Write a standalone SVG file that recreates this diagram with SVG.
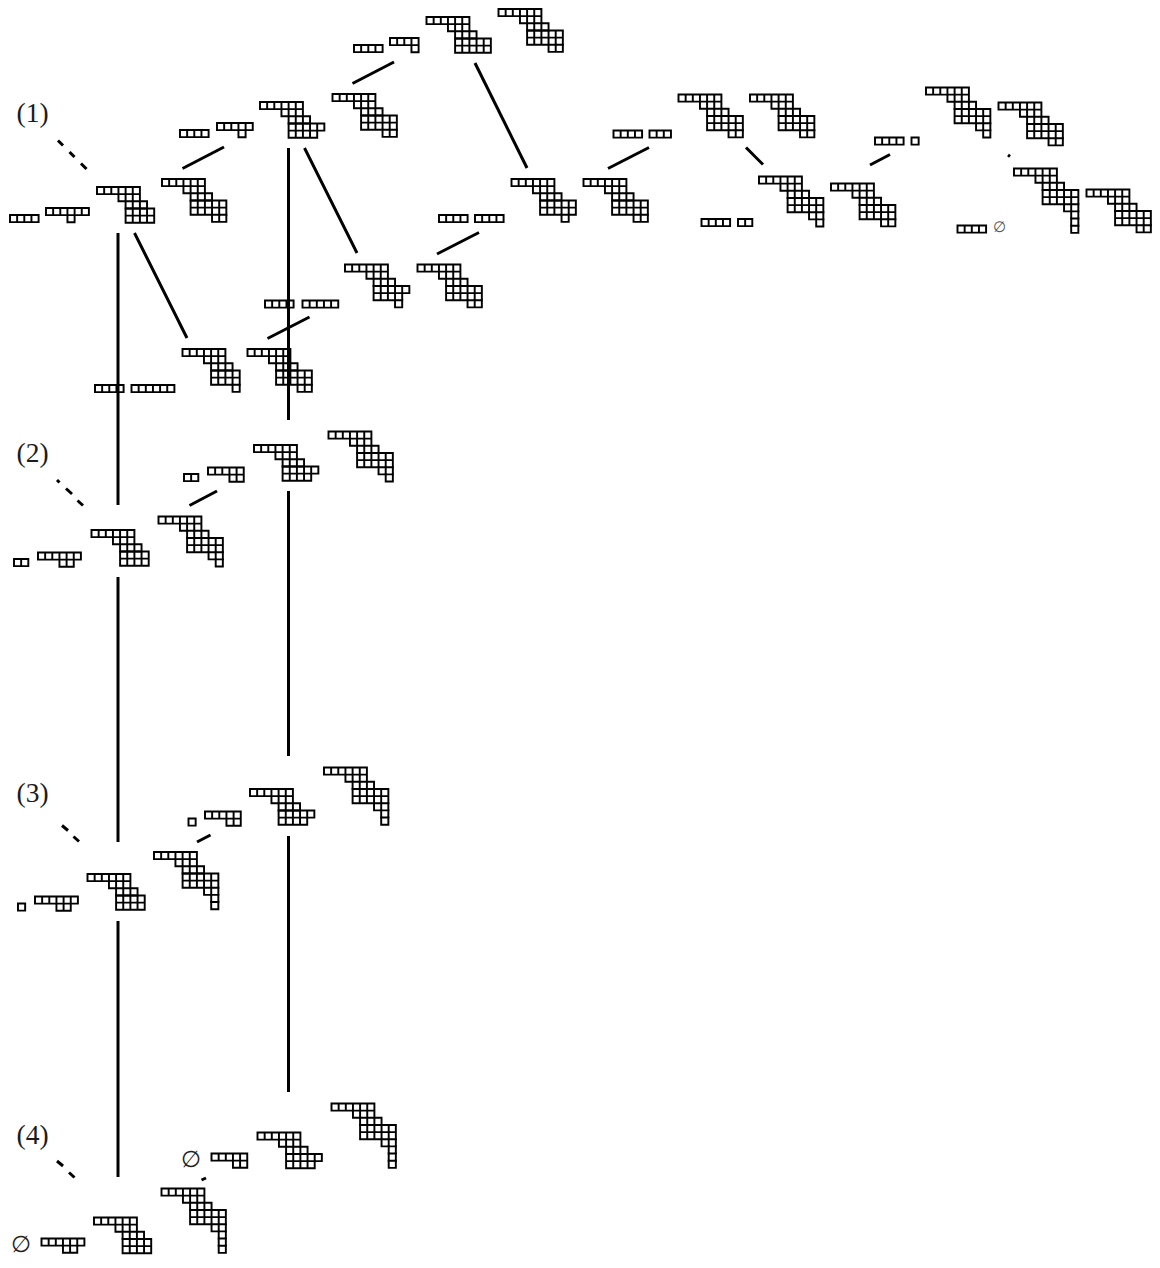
<svg xmlns="http://www.w3.org/2000/svg" width="1160" height="1268" viewBox="0 0 1160 1268">
<style>
.c path,.c line{stroke:#000;stroke-width:3;fill:none}
.k{fill:none;stroke:#000;stroke-width:.27;stroke-linecap:square}
text{font-family:"Liberation Serif","DejaVu Serif",serif;fill:#1c1c1c}
.l{font-size:27.500px}
.e{font-family:"DejaVu Sans",sans-serif;font-size:23px;fill:#222}
.es{font-family:"DejaVu Sans",sans-serif;font-size:15px;fill:#555}
</style>
<defs>
<path id="p-t" d="M0 0H6M0 1H6M3 2H7M4 3H7M0 0V1M1 0V1M2 0V1M3 0V2M4 0V3M5 0V3M6 0V3M7 2V3"/>
<path id="p-a" d="M4 3H8M4 4H8M4 5H8M4 3V5M5 3V5M6 3V5M7 3V5M8 3V5"/>
<path id="p-g" d="M4 3H9M4 4H9M4 5H8M4 3V5M5 3V5M6 3V5M7 3V5M8 3V5M9 3V4"/>
<path id="p-i" d="M4 3H9M4 4H9M4 5H9M4 3V5M5 3V5M6 3V5M7 3V5M8 3V5M9 3V5"/>
<path id="p-5" d="M7 6H9M7 5V6M8 5V6M9 5V6"/>
<path id="p-j" d="M7 6H8M7 5V6M8 5V6"/>
<path id="p-6" d="M8 7H9M8 6V7M9 6V7"/>
<path id="p-7" d="M8 8H9M8 7V8M9 7V8"/>
<path id="p-8" d="M8 9H9M8 8V9M9 8V9"/>
<g id="A" class="k" transform="scale(7.15)"><use href="#p-t"/><use href="#p-a"/></g>
<g id="F" class="k" transform="scale(7.15)"><use href="#p-t"/><use href="#p-a"/><use href="#p-j"/></g>
<g id="G" class="k" transform="scale(7.15)"><use href="#p-t"/><use href="#p-g"/></g>
<g id="E" class="k" transform="scale(7.15)"><use href="#p-t"/><use href="#p-g"/><use href="#p-j"/></g>
<g id="I" class="k" transform="scale(7.15)"><use href="#p-t"/><use href="#p-i"/></g>
<g id="J" class="k" transform="scale(7.15)"><use href="#p-t"/><use href="#p-i"/><use href="#p-j"/></g>
<g id="B" class="k" transform="scale(7.15)"><use href="#p-t"/><use href="#p-i"/><use href="#p-5"/></g>
<g id="C" class="k" transform="scale(7.15)"><use href="#p-t"/><use href="#p-i"/><use href="#p-5"/><use href="#p-6"/></g>
<g id="H" class="k" transform="scale(7.15)"><use href="#p-t"/><use href="#p-i"/><use href="#p-5"/><use href="#p-6"/><use href="#p-7"/></g>
<g id="D" class="k" transform="scale(7.15)"><use href="#p-t"/><use href="#p-i"/><use href="#p-5"/><use href="#p-6"/><use href="#p-7"/><use href="#p-8"/></g>
<path id="r1" class="k" transform="scale(7.15)" d="M0 0H1V1H0Z"/>
<path id="r2" class="k" transform="scale(7.15)" d="M0 0H2V1H0ZM1 0V1"/>
<path id="r3" class="k" transform="scale(7.15)" d="M0 0H3V1H0ZM1 0V1M2 0V1"/>
<path id="r4" class="k" transform="scale(7.15)" d="M0 0H4V1H0ZM1 0V1M2 0V1M3 0V1"/>
<path id="r5" class="k" transform="scale(7.15)" d="M0 0H5V1H0ZM1 0V1M2 0V1M3 0V1M4 0V1"/>
<path id="r6" class="k" transform="scale(7.15)" d="M0 0H6V1H0ZM1 0V1M2 0V1M3 0V1M4 0V1M5 0V1"/>
<path id="s41" class="k" transform="scale(7.15)" d="M0 0H4V1H0ZM1 0V1M2 0V1M3 0V2H4V1"/>
<path id="s51" class="k" transform="scale(7.15)" d="M0 0H5V1H0ZM1 0V1M2 0V1M4 0V1M3 0V2H4V1"/>
<path id="s61" class="k" transform="scale(7.15)" d="M0 0H6V1H0ZM1 0V1M2 0V1M4 0V1M5 0V1M3 0V2H4V1"/>
<path id="s52" class="k" transform="scale(7.15)" d="M0 0H5V1H0ZM1 0V1M2 0V1M4 0V2M3 0V2H5V1"/>
<path id="s62" class="k" transform="scale(7.15)" d="M0 0H6V1H0ZM1 0V1M2 0V1M5 0V1M4 0V2M3 0V2H5V1"/>
</defs>
<g id="connectors" class="c">
<line x1="118" y1="233" x2="118" y2="505"/>
<line x1="118" y1="577" x2="118" y2="842"/>
<line x1="118" y1="921" x2="118" y2="1177"/>
<line x1="288.500" y1="148" x2="288.500" y2="420"/>
<line x1="288.500" y1="491" x2="288.500" y2="756"/>
<line x1="288.500" y1="836" x2="288.500" y2="1092"/>
<line x1="182.500" y1="168.500" x2="224" y2="147"/>
<line x1="352.500" y1="83.500" x2="394" y2="62"/>
<line x1="134.500" y1="233" x2="187" y2="338"/>
<line x1="304.500" y1="148" x2="357" y2="253"/>
<line x1="475" y1="63" x2="527" y2="168"/>
<line x1="437" y1="254" x2="479" y2="232.500"/>
<line x1="608" y1="168.500" x2="649" y2="147.500"/>
<line x1="746" y1="147.500" x2="763" y2="164.500"/>
<line x1="870" y1="165" x2="890" y2="154.500"/>
<line x1="1008" y1="155" x2="1010" y2="156.500"/>
<line x1="267.500" y1="338.500" x2="309.500" y2="317"/>
<line x1="189.500" y1="505.500" x2="217" y2="491"/>
<line x1="197" y1="842" x2="210.500" y2="835"/>
<line x1="201.500" y1="1180" x2="206" y2="1178"/>
<line x1="58" y1="140.500" x2="63" y2="145.500"/>
<line x1="69.500" y1="152" x2="74.500" y2="157"/>
<line x1="81" y1="163.500" x2="86.500" y2="169"/>
<line x1="57" y1="480" x2="59.500" y2="482.500"/>
<line x1="66" y1="488.500" x2="72" y2="494"/>
<line x1="77.500" y1="500.500" x2="83" y2="505.500"/>
<line x1="62" y1="825.500" x2="68" y2="830.500"/>
<line x1="73.500" y1="836.500" x2="79" y2="841.500"/>
<line x1="57" y1="1161" x2="63" y2="1166"/>
<line x1="69" y1="1172.500" x2="74.500" y2="1177.500"/>
</g>
<g id="labels">
<text class="l" x="16.500" y="122">(1)</text>
<text class="l" x="16.500" y="462">(2)</text>
<text class="l" x="16.500" y="802">(3)</text>
<text class="l" x="16.500" y="1144">(4)</text>
</g>
<g id="node-1"><use href="#r4" transform="translate(10,215)"/><use href="#s61" transform="translate(46,208)"/><use href="#A" transform="translate(97,187)"/><use href="#B" transform="translate(162,179)"/></g>
<g id="node-2"><use href="#r4" transform="translate(180,130)"/><use href="#s51" transform="translate(217,123)"/><use href="#G" transform="translate(260,102)"/><use href="#B" transform="translate(332.500,94)"/></g>
<g id="node-3"><use href="#r4" transform="translate(354,45)"/><use href="#s41" transform="translate(390,38)"/><use href="#I" transform="translate(426.500,17)"/><use href="#B" transform="translate(498.500,9)"/></g>
<g id="node-4"><use href="#r4" transform="translate(439,215)"/><use href="#r4" transform="translate(475,215)"/><use href="#J" transform="translate(511.500,179)"/><use href="#B" transform="translate(583.500,179)"/></g>
<g id="node-5"><use href="#r4" transform="translate(613.500,130.500)"/><use href="#r3" transform="translate(649.500,130.500)"/><use href="#B" transform="translate(678.500,94.500)"/><use href="#B" transform="translate(750,94.500)"/></g>
<g id="node-6"><use href="#r4" transform="translate(701.500,219)"/><use href="#r2" transform="translate(738,219)"/><use href="#C" transform="translate(759,176.500)"/><use href="#B" transform="translate(831,183.500)"/></g>
<g id="node-7"><use href="#r4" transform="translate(875,137.500)"/><use href="#r1" transform="translate(911.500,137.500)"/><use href="#C" transform="translate(926,87.500)"/><use href="#B" transform="translate(998.500,102.500)"/></g>
<g id="node-8"><use href="#r4" transform="translate(957.500,225.500)"/><text class="es" x="993" y="232">∅</text><use href="#D" transform="translate(1014,168.500)"/><use href="#B" transform="translate(1086.500,189.500)"/></g>
<g id="node-9"><use href="#r4" transform="translate(265,300.500)"/><use href="#r5" transform="translate(302.500,300.500)"/><use href="#E" transform="translate(345,264.500)"/><use href="#B" transform="translate(417.500,264.500)"/></g>
<g id="node-10"><use href="#r4" transform="translate(95,385)"/><use href="#r6" transform="translate(131.500,385)"/><use href="#F" transform="translate(182.500,349)"/><use href="#B" transform="translate(247.500,349)"/></g>
<g id="node-11"><use href="#r2" transform="translate(14,559)"/><use href="#s62" transform="translate(38,552.500)"/><use href="#A" transform="translate(91.500,530)"/><use href="#C" transform="translate(158.500,516.500)"/></g>
<g id="node-12"><use href="#r2" transform="translate(184,474)"/><use href="#s52" transform="translate(208,467.500)"/><use href="#G" transform="translate(254,445)"/><use href="#C" transform="translate(328.500,431.500)"/></g>
<g id="node-13"><use href="#r1" transform="translate(18,903.500)"/><use href="#s62" transform="translate(35,896.500)"/><use href="#A" transform="translate(87.500,874)"/><use href="#H" transform="translate(154,852)"/></g>
<g id="node-14"><use href="#r1" transform="translate(188.500,818.500)"/><use href="#s52" transform="translate(205,811.500)"/><use href="#G" transform="translate(250,789)"/><use href="#H" transform="translate(324,767.500)"/></g>
<g id="node-15"><text class="e" x="11" y="1252">∅</text><use href="#s62" transform="translate(41.500,1238.500)"/><use href="#A" transform="translate(94,1217.500)"/><use href="#D" transform="translate(161.500,1188.500)"/></g>
<g id="node-16"><text class="e" x="181" y="1167">∅</text><use href="#s52" transform="translate(211.500,1153.500)"/><use href="#G" transform="translate(257.500,1132.500)"/><use href="#D" transform="translate(331.500,1103.500)"/></g>
</svg>
